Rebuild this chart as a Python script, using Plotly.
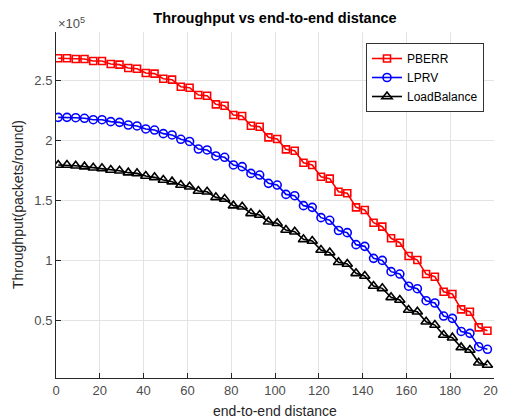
import plotly.graph_objects as go

distance = list(range(1, 198, 4))

pberr = [2.681, 2.681, 2.675, 2.675, 2.658, 2.658, 2.633, 2.628, 2.600, 2.594,
         2.558, 2.553, 2.511, 2.503, 2.444, 2.436, 2.375, 2.369, 2.297, 2.286,
         2.208, 2.200, 2.119, 2.111, 2.022, 2.008, 1.922, 1.911, 1.811, 1.792,
         1.694, 1.678, 1.569, 1.556, 1.439, 1.417, 1.311, 1.278, 1.181, 1.144,
         1.033, 1.000, 0.883, 0.861, 0.736, 0.717, 0.589, 0.569, 0.439, 0.411]

lprv = [2.189, 2.189, 2.186, 2.181, 2.169, 2.169, 2.153, 2.147, 2.125, 2.117,
        2.092, 2.083, 2.053, 2.042, 2.006, 1.988, 1.925, 1.917, 1.867, 1.856,
        1.792, 1.778, 1.722, 1.708, 1.639, 1.625, 1.547, 1.536, 1.453, 1.439,
        1.353, 1.331, 1.246, 1.228, 1.128, 1.114, 1.014, 0.997, 0.903, 0.883,
        0.782, 0.761, 0.661, 0.642, 0.533, 0.514, 0.405, 0.389, 0.278, 0.256]

loadbalance = [1.792, 1.792, 1.786, 1.778, 1.769, 1.764, 1.750, 1.744, 1.728, 1.722,
               1.700, 1.689, 1.667, 1.653, 1.625, 1.611, 1.575, 1.569, 1.522, 1.508,
               1.453, 1.444, 1.389, 1.375, 1.319, 1.306, 1.250, 1.236, 1.172, 1.158,
               1.083, 1.062, 0.982, 0.967, 0.889, 0.867, 0.783, 0.764, 0.689, 0.667,
               0.583, 0.569, 0.486, 0.458, 0.375, 0.353, 0.272, 0.250, 0.144, 0.125]

x_ticks = [0, 20, 40, 60, 80, 100, 120, 140, 160, 180, 200]
y_ticks = [0.5, 1, 1.5, 2, 2.5]
y_tick_text = ["0.5", "1", "1.5", "2", "2.5"]

# the page body has an 8px margin, so the figure starts at (8, 8) in the window
OFF = 8
W, H = 506 - OFF, 419 - OFF
L, T = 56 - OFF, 32 - OFF
R, B = W - (494 - OFF), H - (378 - OFF)
PW, PH = W - L - R, H - T - B


def px_x(p):
    return (p - OFF - L) / PW


def px_y(p):
    return (H - B - (p - OFF)) / PH


fig = go.Figure()
series = [
    ("PBERR", pberr, "#ff0000", "square-open", 7),
    ("LPRV", lprv, "#0000ff", "circle-open", 8),
    ("LoadBalance", loadbalance, "#000000", "triangle-up-open", 9),
]
for name, vals, col, sym, sz in series:
    fig.add_trace(go.Scatter(
        x=distance, y=vals, name=name, mode="lines+markers",
        line=dict(color=col, width=1.6),
        marker=dict(symbol=sym, size=sz, color=col, line=dict(color=col, width=1.6)),
    ))

font = "Liberation Sans, Arial, Helvetica, sans-serif"
fig.update_layout(
    width=W, height=H,
    margin=dict(l=L, r=R, t=T, b=B, autoexpand=False),
    paper_bgcolor="white", plot_bgcolor="white",
    font=dict(family=font, size=13, color="#262626"),
    title=dict(text="<b>Throughput vs end-to-end distance</b>",
               x=(L + PW / 2) / W, xanchor="center",
               y=1 - (18 - OFF) / H, yanchor="middle", font=dict(size=14.5, color="#000000")),
    showlegend=True,
    legend=dict(x=px_x(484), xanchor="right", y=px_y(43), yanchor="top",
                bgcolor="white", bordercolor="#333333", borderwidth=1,
                font=dict(size=12, color="#000000"), tracegroupgap=0),
    xaxis=dict(range=[0, 200], tickvals=x_ticks, ticks="inside", ticklen=5,
               tickcolor="#262626", showline=True, linecolor="#262626", linewidth=1,
               showgrid=True, gridcolor="#e3e3e3", gridwidth=1, zeroline=False,
               mirror=False, automargin=False, tickfont=dict(size=13, color="#4d4d4d")),
    yaxis=dict(range=[0.017, 2.9], tickvals=y_ticks, ticktext=y_tick_text, ticks="inside",
               ticklen=5, tickcolor="#262626", showline=True, linecolor="#262626",
               linewidth=1, showgrid=True, gridcolor="#e3e3e3", gridwidth=1,
               zeroline=False, mirror=False, automargin=False,
               tickfont=dict(size=13, color="#4d4d4d")),
)
fig.add_annotation(text="end-to-end distance", xref="paper", yref="paper",
                   x=0.5, y=px_y(411), xanchor="center", yanchor="middle",
                   showarrow=False, font=dict(size=14, color="#262626"))
fig.add_annotation(text="Throughput(packets/round)", xref="paper", yref="paper",
                   x=px_x(18), y=px_y(205), xanchor="center", yanchor="middle",
                   textangle=-90, showarrow=False, font=dict(size=14, color="#262626"))
fig.add_annotation(text="\u00d710<sup>5</sup>", xref="paper", yref="paper",
                   x=px_x(56), y=px_y(23), xanchor="left", yanchor="middle", showarrow=False,
                   font=dict(size=13, color="#4d4d4d"))

fig.write_html("out.html")
